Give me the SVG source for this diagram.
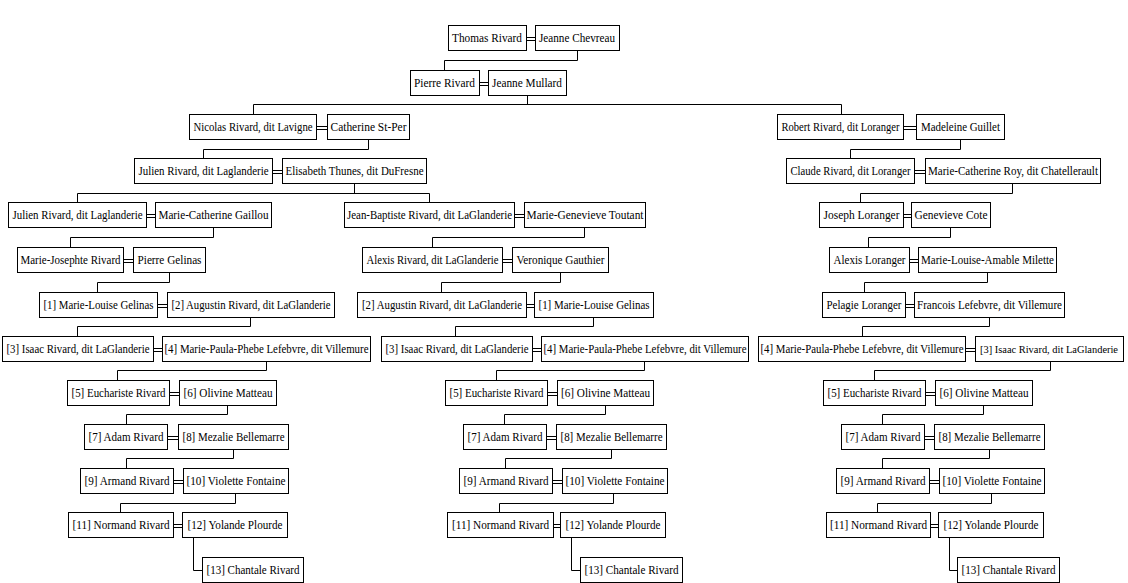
<svg xmlns="http://www.w3.org/2000/svg" width="1128" height="583" viewBox="0 0 1128 583">
<style>
.b{fill:#fff;stroke:#000;stroke-width:1}
.t{font-size:12px;fill:#000;text-anchor:middle}
.c{fill:none;stroke:#000;stroke-width:1}
</style>
<rect width="1128" height="583" fill="#fff"/>
<g id="connectors" class="c">
<path d="M577.5 51V60.5H444.5V70"/>
<path d="M527.5 96V104.5M253.5 104.5H841.5M253.5 104.5V114M841.5 104.5V114"/>
<path d="M368.5 140V149.5H203.5V158"/>
<path d="M960.5 140V149.5H850.5V158"/>
<path d="M354.5 184V193.5M77.5 193.5H429.5M77.5 193.5V202M429.5 193.5V202"/>
<path d="M1012.5 184V193.5H860.5V202"/>
<path d="M213.5 228V237.5H70.5V247"/>
<path d="M584.5 228V237.5H432.5V247"/>
<path d="M950.5 228V237.5H868.5V247"/>
<path d="M169.5 273V282.5H97.5V292"/>
<path d="M560.5 273V282.5H441.5V292"/>
<path d="M987.5 273V282.5H864.5V292"/>
<path d="M250.5 318V326.5H77.5V336"/>
<path d="M593.5 318V326.5H455.5V336"/>
<path d="M989.5 318V326.5H862.5V336"/>
<path d="M266.5 362V370.5H117.5V380"/>
<path d="M644.5 362V370.5H496.5V380"/>
<path d="M1050.5 362V370.5H874.5V380"/>
<path d="M227.5 406V414.5H126.5V424"/>
<path d="M605.5 406V414.5H504.5V424"/>
<path d="M983.5 406V414.5H882.5V424"/>
<path d="M233.5 450V458.5H126.5V468"/>
<path d="M611.5 450V458.5H505.5V468"/>
<path d="M989.5 450V458.5H882.5V468"/>
<path d="M235.5 494V503.5H120.5V512"/>
<path d="M613.5 494V503.5H499.5V512"/>
<path d="M991.5 494V503.5H877.5V512"/>
<path d="M193.5 538V570.5H202"/>
<path d="M571.5 538V570.5H580"/>
<path d="M949.5 538V570.5H957"/>
<path d="M526.5 37.5H535.5M526.5 40.5H535.5"/>
<path d="M479.5 82.5H488.5M479.5 85.5H488.5"/>
<path d="M316.5 126.5H327.5M316.5 129.5H327.5"/>
<path d="M903.5 126.5H916.5M903.5 129.5H916.5"/>
<path d="M272.5 170.5H282.5M272.5 173.5H282.5"/>
<path d="M914.5 170.5H925.5M914.5 173.5H925.5"/>
<path d="M146.5 214.5H155.5M146.5 217.5H155.5"/>
<path d="M514.5 214.5H524.5M514.5 217.5H524.5"/>
<path d="M903.5 214.5H911.5M903.5 217.5H911.5"/>
<path d="M123.5 259.5H133.5M123.5 262.5H133.5"/>
<path d="M502.5 259.5H512.5M502.5 262.5H512.5"/>
<path d="M909.5 259.5H918.5M909.5 262.5H918.5"/>
<path d="M157.5 304.5H167.5M157.5 307.5H167.5"/>
<path d="M526.5 304.5H534.5M526.5 307.5H534.5"/>
<path d="M905.5 304.5H914.5M905.5 307.5H914.5"/>
<path d="M153.5 348.5H162.5M153.5 351.5H162.5"/>
<path d="M532.5 348.5H541.5M532.5 351.5H541.5"/>
<path d="M965.5 348.5H975.5M965.5 351.5H975.5"/>
<path d="M169.5 392.5H179.5M169.5 395.5H179.5"/>
<path d="M547.5 392.5H557.5M547.5 395.5H557.5"/>
<path d="M925.5 392.5H935.5M925.5 395.5H935.5"/>
<path d="M167.5 436.5H178.5M167.5 439.5H178.5"/>
<path d="M546.5 436.5H556.5M546.5 439.5H556.5"/>
<path d="M924.5 436.5H934.5M924.5 439.5H934.5"/>
<path d="M173.5 480.5H183.5M173.5 483.5H183.5"/>
<path d="M552.5 480.5H562.5M552.5 483.5H562.5"/>
<path d="M929.5 480.5H939.5M929.5 483.5H939.5"/>
<path d="M173.5 524.5H182.5M173.5 527.5H182.5"/>
<path d="M553.5 524.5H560.5M553.5 527.5H560.5"/>
<path d="M930.5 524.5H938.5M930.5 527.5H938.5"/>
</g>
<g id="nodes" font-family="'Liberation Serif', 'DejaVu Serif', 'Times New Roman', serif">
<g id="n-thomas"><rect class="b" x="448.5" y="25.5" width="78" height="25"/><text class="t" x="487" y="42" textLength="70" lengthAdjust="spacingAndGlyphs">Thomas Rivard</text></g>
<g id="n-jchevreau"><rect class="b" x="535.5" y="25.5" width="84" height="25"/><text class="t" x="577" y="42" textLength="76" lengthAdjust="spacingAndGlyphs">Jeanne Chevreau</text></g>
<g id="n-pierre"><rect class="b" x="410.5" y="70.5" width="69" height="25"/><text class="t" x="444.5" y="87" textLength="61" lengthAdjust="spacingAndGlyphs">Pierre Rivard</text></g>
<g id="n-mullard"><rect class="b" x="488.5" y="70.5" width="78" height="25"/><text class="t" x="527" y="87" textLength="70" lengthAdjust="spacingAndGlyphs">Jeanne Mullard</text></g>
<g id="n-nicolas"><rect class="b" x="189.5" y="114.5" width="127" height="25"/><text class="t" x="253" y="131" textLength="119" lengthAdjust="spacingAndGlyphs">Nicolas Rivard, dit Lavigne</text></g>
<g id="n-catherine"><rect class="b" x="327.5" y="114.5" width="82" height="25"/><text class="t" x="368.5" y="131" textLength="76" lengthAdjust="spacingAndGlyphs">Catherine St-Per</text></g>
<g id="n-robert"><rect class="b" x="777.5" y="114.5" width="126" height="25"/><text class="t" x="840.5" y="131" textLength="118" lengthAdjust="spacingAndGlyphs">Robert Rivard, dit Loranger</text></g>
<g id="n-madeleine"><rect class="b" x="916.5" y="114.5" width="88" height="25"/><text class="t" x="960.5" y="131" textLength="79" lengthAdjust="spacingAndGlyphs">Madeleine Guillet</text></g>
<g id="n-julien3"><rect class="b" x="134.5" y="158.5" width="138" height="25"/><text class="t" x="203.5" y="175" textLength="130" lengthAdjust="spacingAndGlyphs">Julien Rivard, dit Laglanderie</text></g>
<g id="n-elisabeth"><rect class="b" x="282.5" y="158.5" width="144" height="25"/><text class="t" x="354.5" y="175" textLength="138" lengthAdjust="spacingAndGlyphs">Elisabeth Thunes, dit DuFresne</text></g>
<g id="n-claude"><rect class="b" x="786.5" y="158.5" width="128" height="25"/><text class="t" x="850.5" y="175" textLength="120" lengthAdjust="spacingAndGlyphs">Claude Rivard, dit Loranger</text></g>
<g id="n-mcroy"><rect class="b" x="925.5" y="158.5" width="175" height="25"/><text class="t" x="1013" y="175" textLength="170" lengthAdjust="spacingAndGlyphs">Marie-Catherine Roy, dit Chatellerault</text></g>
<g id="n-julien4"><rect class="b" x="8.5" y="202.5" width="138" height="25"/><text class="t" x="77.5" y="219" textLength="130" lengthAdjust="spacingAndGlyphs">Julien Rivard, dit Laglanderie</text></g>
<g id="n-gaillou"><rect class="b" x="155.5" y="202.5" width="116" height="25"/><text class="t" x="213.5" y="219" textLength="110" lengthAdjust="spacingAndGlyphs">Marie-Catherine Gaillou</text></g>
<g id="n-jeanbaptiste"><rect class="b" x="344.5" y="202.5" width="170" height="25"/><text class="t" x="429.5" y="219" textLength="165" lengthAdjust="spacingAndGlyphs">Jean-Baptiste Rivard, dit LaGlanderie</text></g>
<g id="n-toutant"><rect class="b" x="524.5" y="202.5" width="121" height="25"/><text class="t" x="585" y="219" textLength="117" lengthAdjust="spacingAndGlyphs">Marie-Genevieve Toutant</text></g>
<g id="n-joseph"><rect class="b" x="819.5" y="202.5" width="84" height="25"/><text class="t" x="861.5" y="219" textLength="76" lengthAdjust="spacingAndGlyphs">Joseph Loranger</text></g>
<g id="n-gcote"><rect class="b" x="911.5" y="202.5" width="79" height="25"/><text class="t" x="951" y="219" textLength="73" lengthAdjust="spacingAndGlyphs">Genevieve Cote</text></g>
<g id="n-mjosephte"><rect class="b" x="17.5" y="247.5" width="106" height="25"/><text class="t" x="70.5" y="264" textLength="100" lengthAdjust="spacingAndGlyphs">Marie-Josephte Rivard</text></g>
<g id="n-pgelinas"><rect class="b" x="133.5" y="247.5" width="72" height="25"/><text class="t" x="169.5" y="264" textLength="64" lengthAdjust="spacingAndGlyphs">Pierre Gelinas</text></g>
<g id="n-alexisr"><rect class="b" x="362.5" y="247.5" width="140" height="25"/><text class="t" x="432.5" y="264" textLength="132" lengthAdjust="spacingAndGlyphs">Alexis Rivard, dit LaGlanderie</text></g>
<g id="n-veronique"><rect class="b" x="512.5" y="247.5" width="96" height="25"/><text class="t" x="560.5" y="264" textLength="88" lengthAdjust="spacingAndGlyphs">Veronique Gauthier</text></g>
<g id="n-alexisl"><rect class="b" x="829.5" y="247.5" width="80" height="25"/><text class="t" x="869.5" y="264" textLength="72" lengthAdjust="spacingAndGlyphs">Alexis Loranger</text></g>
<g id="n-milette"><rect class="b" x="918.5" y="247.5" width="138" height="25"/><text class="t" x="987.5" y="264" textLength="133" lengthAdjust="spacingAndGlyphs">Marie-Louise-Amable Milette</text></g>
<g id="n-l1"><rect class="b" x="39.5" y="292.5" width="118" height="25"/><text class="t" x="98.5" y="309" textLength="110" lengthAdjust="spacingAndGlyphs">[1] Marie-Louise Gelinas</text></g>
<g id="n-l2"><rect class="b" x="167.5" y="292.5" width="167" height="25"/><text class="t" x="251" y="309" textLength="159" lengthAdjust="spacingAndGlyphs">[2] Augustin Rivard, dit LaGlanderie</text></g>
<g id="n-m2"><rect class="b" x="357.5" y="292.5" width="169" height="25"/><text class="t" x="442" y="309" textLength="160" lengthAdjust="spacingAndGlyphs">[2] Augustin Rivard, dit LaGlanderie</text></g>
<g id="n-m1"><rect class="b" x="534.5" y="292.5" width="119" height="25"/><text class="t" x="594" y="309" textLength="111" lengthAdjust="spacingAndGlyphs">[1] Marie-Louise Gelinas</text></g>
<g id="n-pelagie"><rect class="b" x="822.5" y="292.5" width="83" height="25"/><text class="t" x="864" y="309" textLength="75" lengthAdjust="spacingAndGlyphs">Pelagie Loranger</text></g>
<g id="n-francois"><rect class="b" x="914.5" y="292.5" width="150" height="25"/><text class="t" x="989.5" y="309" textLength="145" lengthAdjust="spacingAndGlyphs">Francois Lefebvre, dit Villemure</text></g>
<g id="n-l3"><rect class="b" x="2.5" y="336.5" width="151" height="25"/><text class="t" x="78" y="353" textLength="143" lengthAdjust="spacingAndGlyphs">[3] Isaac Rivard, dit LaGlanderie</text></g>
<g id="n-l4"><rect class="b" x="162.5" y="336.5" width="208" height="25"/><text class="t" x="266.5" y="353" textLength="204" lengthAdjust="spacingAndGlyphs">[4] Marie-Paula-Phebe Lefebvre, dit Villemure</text></g>
<g id="n-m3"><rect class="b" x="381.5" y="336.5" width="151" height="25"/><text class="t" x="457" y="353" textLength="143" lengthAdjust="spacingAndGlyphs">[3] Isaac Rivard, dit LaGlanderie</text></g>
<g id="n-m4"><rect class="b" x="541.5" y="336.5" width="207" height="25"/><text class="t" x="645" y="353" textLength="203" lengthAdjust="spacingAndGlyphs">[4] Marie-Paula-Phebe Lefebvre, dit Villemure</text></g>
<g id="n-r4"><rect class="b" x="758.5" y="336.5" width="207" height="25"/><text class="t" x="862" y="353" textLength="203" lengthAdjust="spacingAndGlyphs">[4] Marie-Paula-Phebe Lefebvre, dit Villemure</text></g>
<g id="n-r3"><rect class="b" x="975.5" y="336.5" width="148" height="25"/><text class="t" x="1049" y="353" font-size="11px" style="font-size:11px" textLength="138" lengthAdjust="spacingAndGlyphs">[3] Isaac Rivard, dit LaGlanderie</text></g>
<g id="n-l5"><rect class="b" x="67.5" y="380.5" width="102" height="25"/><text class="t" x="118.5" y="397" textLength="94" lengthAdjust="spacingAndGlyphs">[5] Euchariste Rivard</text></g>
<g id="n-l6"><rect class="b" x="179.5" y="380.5" width="97" height="25"/><text class="t" x="228" y="397" textLength="89" lengthAdjust="spacingAndGlyphs">[6] Olivine Matteau</text></g>
<g id="n-m5"><rect class="b" x="445.5" y="380.5" width="102" height="25"/><text class="t" x="496.5" y="397" textLength="94" lengthAdjust="spacingAndGlyphs">[5] Euchariste Rivard</text></g>
<g id="n-m6"><rect class="b" x="557.5" y="380.5" width="96" height="25"/><text class="t" x="605.5" y="397" textLength="89" lengthAdjust="spacingAndGlyphs">[6] Olivine Matteau</text></g>
<g id="n-r5"><rect class="b" x="823.5" y="380.5" width="102" height="25"/><text class="t" x="874.5" y="397" textLength="94" lengthAdjust="spacingAndGlyphs">[5] Euchariste Rivard</text></g>
<g id="n-r6"><rect class="b" x="935.5" y="380.5" width="97" height="25"/><text class="t" x="984" y="397" textLength="89" lengthAdjust="spacingAndGlyphs">[6] Olivine Matteau</text></g>
<g id="n-l7"><rect class="b" x="84.5" y="424.5" width="83" height="25"/><text class="t" x="126" y="441" textLength="75" lengthAdjust="spacingAndGlyphs">[7] Adam Rivard</text></g>
<g id="n-l8"><rect class="b" x="178.5" y="424.5" width="110" height="25"/><text class="t" x="233.5" y="441" textLength="102" lengthAdjust="spacingAndGlyphs">[8] Mezalie Bellemarre</text></g>
<g id="n-m7"><rect class="b" x="463.5" y="424.5" width="83" height="25"/><text class="t" x="505" y="441" textLength="75" lengthAdjust="spacingAndGlyphs">[7] Adam Rivard</text></g>
<g id="n-m8"><rect class="b" x="556.5" y="424.5" width="110" height="25"/><text class="t" x="611.5" y="441" textLength="102" lengthAdjust="spacingAndGlyphs">[8] Mezalie Bellemarre</text></g>
<g id="n-r7"><rect class="b" x="841.5" y="424.5" width="83" height="25"/><text class="t" x="883" y="441" textLength="75" lengthAdjust="spacingAndGlyphs">[7] Adam Rivard</text></g>
<g id="n-r8"><rect class="b" x="934.5" y="424.5" width="110" height="25"/><text class="t" x="989.5" y="441" textLength="102" lengthAdjust="spacingAndGlyphs">[8] Mezalie Bellemarre</text></g>
<g id="n-l9"><rect class="b" x="80.5" y="468.5" width="93" height="25"/><text class="t" x="127" y="485" textLength="85" lengthAdjust="spacingAndGlyphs">[9] Armand Rivard</text></g>
<g id="n-l10"><rect class="b" x="183.5" y="468.5" width="105" height="25"/><text class="t" x="236" y="485" textLength="99" lengthAdjust="spacingAndGlyphs">[10] Violette Fontaine</text></g>
<g id="n-m9"><rect class="b" x="459.5" y="468.5" width="93" height="25"/><text class="t" x="506" y="485" textLength="85" lengthAdjust="spacingAndGlyphs">[9] Armand Rivard</text></g>
<g id="n-m10"><rect class="b" x="562.5" y="468.5" width="105" height="25"/><text class="t" x="615" y="485" textLength="99" lengthAdjust="spacingAndGlyphs">[10] Violette Fontaine</text></g>
<g id="n-r9"><rect class="b" x="836.5" y="468.5" width="93" height="25"/><text class="t" x="883" y="485" textLength="85" lengthAdjust="spacingAndGlyphs">[9] Armand Rivard</text></g>
<g id="n-r10"><rect class="b" x="939.5" y="468.5" width="105" height="25"/><text class="t" x="992" y="485" textLength="99" lengthAdjust="spacingAndGlyphs">[10] Violette Fontaine</text></g>
<g id="n-l11"><rect class="b" x="68.5" y="512.5" width="105" height="25"/><text class="t" x="121" y="529" textLength="97" lengthAdjust="spacingAndGlyphs">[11] Normand Rivard</text></g>
<g id="n-l12"><rect class="b" x="182.5" y="512.5" width="105" height="25"/><text class="t" x="235" y="529" textLength="95" lengthAdjust="spacingAndGlyphs">[12] Yolande Plourde</text></g>
<g id="n-m11"><rect class="b" x="447.5" y="512.5" width="106" height="25"/><text class="t" x="500.5" y="529" textLength="97" lengthAdjust="spacingAndGlyphs">[11] Normand Rivard</text></g>
<g id="n-m12"><rect class="b" x="560.5" y="512.5" width="105" height="25"/><text class="t" x="613" y="529" textLength="95" lengthAdjust="spacingAndGlyphs">[12] Yolande Plourde</text></g>
<g id="n-r11"><rect class="b" x="826.5" y="512.5" width="104" height="25"/><text class="t" x="878.5" y="529" textLength="97" lengthAdjust="spacingAndGlyphs">[11] Normand Rivard</text></g>
<g id="n-r12"><rect class="b" x="938.5" y="512.5" width="105" height="25"/><text class="t" x="991" y="529" textLength="95" lengthAdjust="spacingAndGlyphs">[12] Yolande Plourde</text></g>
<g id="n-l13"><rect class="b" x="202.5" y="557.5" width="101" height="25"/><text class="t" x="253" y="574" textLength="93" lengthAdjust="spacingAndGlyphs">[13] Chantale Rivard</text></g>
<g id="n-m13"><rect class="b" x="580.5" y="557.5" width="102" height="25"/><text class="t" x="631.5" y="574" textLength="94" lengthAdjust="spacingAndGlyphs">[13] Chantale Rivard</text></g>
<g id="n-r13"><rect class="b" x="957.5" y="557.5" width="102" height="25"/><text class="t" x="1008.5" y="574" textLength="94" lengthAdjust="spacingAndGlyphs">[13] Chantale Rivard</text></g>
</g>
</svg>
